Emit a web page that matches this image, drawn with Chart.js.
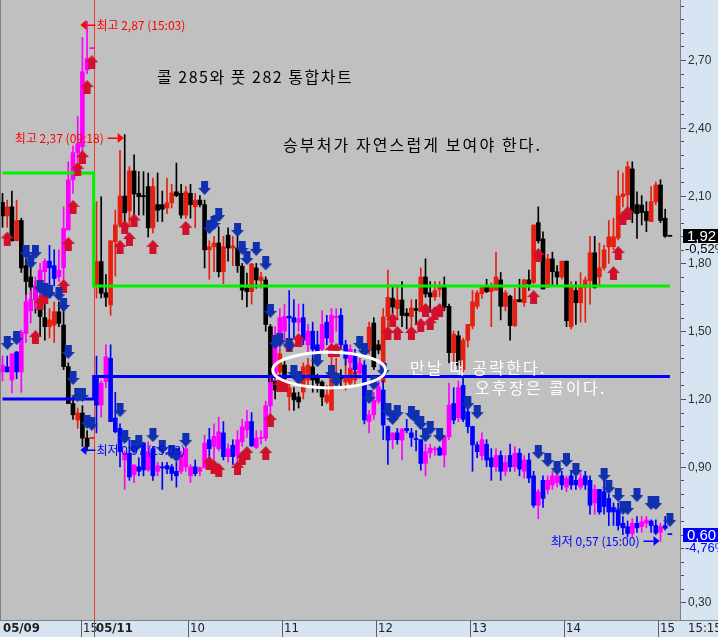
<!DOCTYPE html>
<html><head><meta charset="utf-8">
<script src="https://cdn.jsdelivr.net/npm/chart.js@4/dist/chart.umd.min.js"></script>
<style>html,body{margin:0;padding:0;background:#d6e3f0;}canvas{display:block;}</style>
</head><body>
<canvas id="c" width="718" height="637"></canvas>
<script>
// ---- time slots: 3-minute candles. 0..19 = 05/09 close, 20..142 = 05/11 ----
// Call 285 (red up / black down)
const callOpen  = [2.07,2.01,2.05,1.90,1.99,1.79,1.74,1.70,1.64,1.56,1.52,1.527,1.586,1.527,1.343,1.18,1.107,1.138,1.027,1.025,
1.697,1.808,1.67,1.616,1.896,1.97,2.098,2.032,2.209,2.11,2.10,2.14,1.957,2.06,2.06,2.045,2.068,2.117,2.11,2.014,2.11,2.05,2.08,2.06,1.86,1.874,1.89,1.763,1.925,1.868,1.868,
1.788,1.69,1.675,1.78,1.724,1.727,1.52,1.28,1.32,1.35,1.21,1.227,1.209,1.231,1.284,1.342,1.297,1.275,1.187,1.151,1.284,1.30,1.275,1.27,1.284,1.315,1.24,1.417,1.536,1.44,1.275,
1.565,1.646,1.60,1.638,1.58,1.564,1.60,1.586,1.74,1.67,1.652,1.685,1.697,1.61,1.405,1.48,1.33,1.46,1.523,1.61,1.666,1.697,1.675,1.682,1.727,1.61,1.655,1.525,1.64,1.626,1.727,
1.715,1.98,1.908,1.695,1.82,1.763,1.74,1.81,1.52,1.68,1.626,1.695,1.724,1.847,1.74,1.78,1.873,1.874,1.912,2.095,2.103,2.218,2.06,2.058,2.03,1.985,2.073,2.147,2.0,1.92];
const callHigh  = [2.11,2.08,2.12,2.08,2.00,1.82,1.78,1.72,1.66,1.64,1.60,1.63,1.63,1.60,1.36,1.21,1.16,1.17,1.06,1.03,
2.073,2.095,1.75,1.90,2.036,2.30,2.37,2.228,2.28,2.206,2.206,2.20,2.178,2.20,2.12,2.178,2.15,2.244,2.15,2.14,2.15,2.11,2.10,2.08,1.90,1.92,1.963,1.92,1.957,1.92,1.957,
1.80,1.757,1.80,1.80,1.76,1.74,1.53,1.36,1.42,1.37,1.28,1.25,1.23,1.36,1.38,1.38,1.31,1.28,1.26,1.43,1.38,1.33,1.40,1.40,1.35,1.38,1.30,1.54,1.56,1.46,1.60,
1.77,1.70,1.70,1.72,1.60,1.64,1.64,1.78,1.82,1.72,1.72,1.72,1.74,1.62,1.50,1.50,1.47,1.53,1.68,1.68,1.70,1.73,1.714,1.85,1.76,1.68,1.66,1.69,1.73,1.73,1.77,
1.97,2.05,1.94,1.84,1.85,1.79,1.81,1.81,1.72,1.72,1.76,1.74,1.92,1.92,1.89,1.88,1.99,2.0,2.21,2.20,2.25,2.25,2.117,2.10,2.073,2.14,2.16,2.17,2.04,1.92];
const callLow   = [1.96,1.96,1.90,1.90,1.76,1.58,1.62,1.58,1.48,1.46,1.47,1.45,1.52,1.33,1.18,1.11,1.07,0.99,0.97,1.025,
1.647,1.647,1.61,1.57,1.744,1.965,1.935,1.965,1.985,2.014,2.014,1.917,1.935,1.985,1.985,2.02,2.045,2.095,2.0,2.0,2.0,1.957,2.05,1.78,1.73,1.763,1.74,1.71,1.81,1.79,1.76,
1.64,1.607,1.62,1.69,1.69,1.50,1.26,1.20,1.30,1.26,1.15,1.15,1.16,1.20,1.25,1.23,1.23,1.17,1.18,1.15,1.27,1.25,1.24,1.26,1.26,1.30,1.22,1.40,1.33,1.40,1.26,
1.52,1.58,1.55,1.52,1.51,1.52,1.53,1.586,1.65,1.586,1.636,1.652,1.59,1.36,1.36,1.33,1.32,1.43,1.51,1.60,1.645,1.67,1.52,1.68,1.55,1.59,1.46,1.52,1.63,1.61,1.68,
1.71,1.89,1.687,1.695,1.70,1.70,1.73,1.52,1.51,1.53,1.54,1.54,1.62,1.69,1.70,1.77,1.80,1.86,1.904,2.05,2.02,1.98,1.91,1.97,1.94,1.985,2.06,1.98,1.915,1.92];
const callClose = [2.01,2.05,1.90,1.99,1.78,1.72,1.695,1.64,1.565,1.52,1.55,1.586,1.535,1.343,1.18,1.13,1.138,1.027,0.99,1.03,
1.808,1.668,1.65,1.90,1.97,2.098,2.024,2.209,2.107,2.095,2.095,1.957,2.14,2.035,2.04,2.068,2.112,2.10,2.014,2.117,2.06,2.08,2.06,1.86,1.874,1.89,1.763,1.874,1.868,1.877,1.79,
1.682,1.675,1.797,1.727,1.74,1.53,1.275,1.24,1.40,1.29,1.25,1.196,1.187,1.342,1.35,1.284,1.27,1.209,1.218,1.31,1.297,1.29,1.297,1.337,1.32,1.35,1.27,1.518,1.342,1.417,1.563,
1.65,1.607,1.638,1.57,1.568,1.603,1.592,1.74,1.665,1.652,1.68,1.697,1.606,1.405,1.487,1.35,1.46,1.53,1.63,1.67,1.697,1.675,1.70,1.74,1.61,1.67,1.525,1.64,1.63,1.727,1.71,
1.97,1.90,1.687,1.82,1.763,1.74,1.81,1.546,1.694,1.626,1.70,1.727,1.847,1.694,1.78,1.86,1.917,1.918,2.098,2.107,2.228,2.023,2.02,2.025,1.99,2.073,2.147,1.99,1.92,1.92];

// Put 282 (magenta up / blue down)
const putOpen  = [1.32,1.342,1.284,1.408,1.32,1.49,1.59,1.64,1.68,1.763,1.81,1.79,1.74,1.78,1.948,2.17,2.29,2.316,2.656,2.75,
1.30,1.173,1.277,1.38,1.116,1.07,0.93,0.96,0.864,0.90,1.005,0.886,0.98,0.88,0.90,0.905,0.90,0.88,0.88,0.90,0.86,0.90,0.88,0.895,1.02,0.99,0.98,1.05,0.945,0.995,0.95,
1.011,1.063,1.10,0.985,1.025,1.027,1.17,1.30,1.45,1.50,1.566,1.56,1.54,1.56,1.44,1.50,1.44,1.42,1.54,1.45,1.56,1.57,1.44,1.36,1.40,1.32,1.35,1.10,1.13,1.19,1.24,
1.078,1.02,1.05,1.018,1.07,1.05,1.025,1.02,0.915,0.962,0.975,0.983,0.952,1.033,1.18,1.117,1.26,1.144,1.078,0.997,0.95,1.00,0.94,0.90,0.95,0.88,0.95,0.90,0.96,0.88,0.93,
0.86,0.73,0.84,0.80,0.82,0.83,0.86,0.81,0.86,0.84,0.81,0.86,0.84,0.74,0.80,0.79,0.76,0.72,0.71,0.65,0.635,0.605,0.65,0.635,0.65,0.66,0.64,0.61,0.64,0.60];
const putHigh  = [1.39,1.39,1.40,1.41,1.505,1.66,1.68,1.74,1.80,1.82,1.88,1.86,1.86,2.05,2.25,2.32,2.45,2.80,2.87,2.754,
1.39,1.28,1.44,1.44,1.23,1.09,0.97,1.02,0.91,0.94,1.005,1.01,0.99,0.92,0.92,0.92,0.91,0.92,0.97,1.00,0.91,0.93,0.90,1.04,1.07,1.09,1.12,1.10,1.00,1.02,1.06,
1.11,1.15,1.14,1.06,1.06,1.19,1.30,1.52,1.60,1.62,1.68,1.64,1.62,1.62,1.53,1.54,1.50,1.59,1.57,1.60,1.60,1.60,1.46,1.44,1.42,1.38,1.37,1.15,1.23,1.30,1.28,
1.08,1.05,1.07,1.07,1.11,1.07,1.06,1.02,1.00,1.00,0.99,0.99,1.04,1.27,1.25,1.28,1.30,1.17,1.08,1.01,1.05,1.02,0.98,0.98,0.97,0.95,1.00,0.99,0.98,0.95,0.96,
0.88,0.80,0.86,0.86,0.88,0.87,0.88,0.86,0.88,0.86,0.87,0.88,0.86,0.82,0.80,0.86,0.78,0.74,0.74,0.68,0.66,0.67,0.68,0.68,0.68,0.665,0.665,0.65,0.68,0.60];
const putLow   = [1.28,1.32,1.227,1.29,1.23,1.45,1.536,1.60,1.62,1.66,1.70,1.70,1.72,1.73,1.948,2.11,2.25,2.27,2.64,2.75,
1.05,1.12,1.25,1.10,1.05,0.90,0.80,0.84,0.83,0.86,0.86,0.88,0.84,0.86,0.80,0.87,0.84,0.81,0.87,0.88,0.83,0.86,0.86,0.895,0.93,0.93,0.97,0.93,0.92,0.91,0.92,
0.99,1.03,0.99,0.98,1.00,1.015,1.11,1.28,1.42,1.46,1.45,1.47,1.50,1.44,1.40,1.38,1.38,1.40,1.44,1.43,1.50,1.42,1.35,1.33,1.31,1.29,1.09,1.05,1.11,1.18,1.02,
0.91,0.98,1.00,0.93,1.05,0.99,0.97,0.885,0.86,0.94,0.95,0.95,0.90,1.02,1.09,1.10,1.10,1.05,0.88,0.94,0.93,0.90,0.84,0.88,0.84,0.86,0.88,0.88,0.86,0.85,0.83,
0.72,0.67,0.72,0.78,0.80,0.81,0.80,0.79,0.80,0.80,0.80,0.80,0.69,0.69,0.69,0.69,0.64,0.64,0.62,0.60,0.59,0.59,0.61,0.61,0.63,0.61,0.60,0.57,0.62,0.60];
const putClose = [1.35,1.32,1.40,1.32,1.496,1.63,1.64,1.70,1.77,1.81,1.78,1.733,1.77,1.955,2.17,2.29,2.33,2.648,2.707,2.754,
1.173,1.27,1.387,1.10,1.055,0.967,0.96,0.855,0.908,0.88,0.886,0.967,0.86,0.905,0.895,0.89,0.87,0.86,0.96,0.98,0.90,0.87,0.895,1.005,0.98,1.035,1.055,0.945,0.98,0.945,1.02,
1.077,1.10,0.992,1.027,1.03,1.17,1.27,1.47,1.56,1.566,1.558,1.54,1.555,1.46,1.50,1.42,1.40,1.53,1.47,1.57,1.565,1.44,1.38,1.42,1.33,1.36,1.107,1.13,1.195,1.255,1.085,
1.018,1.05,1.02,1.067,1.06,1.03,1.02,0.915,0.967,0.983,0.98,0.952,1.033,1.173,1.107,1.25,1.11,1.078,0.997,0.967,1.02,0.93,0.90,0.95,0.88,0.92,0.90,0.96,0.89,0.93,0.85,
0.73,0.79,0.76,0.84,0.86,0.86,0.82,0.85,0.82,0.82,0.85,0.82,0.73,0.80,0.70,0.724,0.70,0.70,0.64,0.63,0.605,0.65,0.63,0.657,0.665,0.64,0.607,0.635,0.628,0.60];

// Signal arrows (slot, price level)
const buySlots   = [1,7,8,9,13,14,15,16,17,18,19,25,26,27,28,32,39,44,45,46,50,51,52,56,57,59,60,61,63,70,71,82,83,84,87,89,90,91,92,93,113,114,130,131,132,133];
const buyLevels  = [1.91,1.474,1.625,1.65,1.70,1.886,2.05,2.218,2.27,2.58,2.69,1.873,1.96,1.908,1.99,1.873,1.957,0.917,0.90,0.886,0.895,0.939,0.961,0.961,1.107,1.262,1.262,1.439,1.461,1.417,1.417,1.492,1.55,1.492,1.492,1.527,1.594,1.536,1.58,1.594,1.651,1.837,1.757,1.846,2.0,2.023];
const sellSlots  = [1,3,5,6,7,8,9,10,12,13,14,15,16,17,18,19,25,26,28,29,32,34,36,37,39,43,44,45,46,50,51,52,54,56,57,58,59,61,62,63,67,70,71,76,77,78,79,81,82,83,84,87,88,89,90,91,93,99,101,114,116,118,120,122,128,129,131,132,133,135,138,139,142];
const sellLevels = [1.448,1.47,1.85,1.806,1.85,1.696,1.682,1.673,1.664,1.616,1.408,1.293,1.218,1.218,1.098,1.09,1.151,1.032,0.988,1.01,1.04,0.988,0.965,0.952,1.019,2.134,1.96,1.979,2.014,1.948,1.868,1.824,1.864,1.80,1.59,1.452,1.46,1.439,1.319,1.293,1.372,1.319,1.284,1.448,1.417,1.209,1.27,1.328,1.151,1.116,1.142,1.138,1.12,1.094,1.04,1.072,1.04,1.182,1.142,0.965,0.93,0.894,0.93,0.886,0.864,0.81,0.775,0.718,0.718,0.775,0.74,0.74,0.665];

// Reference levels per day [05/09, 05/11]
const greenLevels = [2.20, 1.70];
const blueLevels  = [1.20, 1.30];
const dayBreakSlot = 19.4;
const lastSlot = 142;

// Axis
const priceTicks = [0.30,0.60,0.90,1.20,1.50,1.80,2.10,2.40,2.70];
const timeLabelSlots = [-0.3,16.65,19.5,39.5,59.5,79.5,99.5,119.5,139.5];
const timeLabelTexts = ['05/09','15','05/11','10','11','12','13','14','15'];
const timeLabelBold  = [true,false,true,false,false,false,false,false,false];

// High / low notes
const noteSlots  = [17,26,17,140];
const noteLevels = [2.855,2.355,0.975,0.572];
const noteTexts  = ['최고 2,87 (15:03)','최고 2,37 (09:18)','최저 0,97 (15:03)','최저 0,57 (15:00)'];
const noteSides  = ['right','left','right','left'];
const noteColors = ['#ff0000','#ff0000','#0000ff','#0000ff'];

// Meeting zone ellipse
const zoneSlot = 69.5, zoneLevel = 1.328, zoneHalfSlots = 12, zoneHalfLevel = 0.079;

function candle(o,h,l,c,up,dn,ord){
  const wick=[],body=[],col=[];
  for(let i=0;i<o.length;i++){
    wick.push({x:i,y:[l[i],h[i]]});
    body.push({x:i,y:[o[i],c[i]]});
    col.push(c[i]>o[i]?up:dn);
  }
  return [
    {type:'bar',data:wick,backgroundColor:col,borderWidth:0,barThickness:1,grouped:false,order:ord+1},
    {type:'bar',data:body,backgroundColor:col,borderWidth:0,barThickness:4,grouped:false,minBarLength:1,order:ord}
  ];
}
function arrowImg(color,up){
  const c=document.createElement('canvas');c.width=13;c.height=14;
  const g=c.getContext('2d');g.fillStyle=color;
  if(up){g.beginPath();g.moveTo(6.5,0);g.lineTo(13,7);g.lineTo(0,7);g.closePath();g.fill();g.fillRect(3,7,7,7);}
  else{g.fillRect(3,0,7,7);g.beginPath();g.moveTo(0,7);g.lineTo(13,7);g.lineTo(6.5,14);g.closePath();g.fill();}
  return c;
}
function levelLine(levels){
  return [{x:0,y:levels[0]},{x:dayBreakSlot,y:levels[0]},{x:dayBreakSlot,y:levels[1]},{x:lastSlot,y:levels[1]}];
}

const ds = [].concat(
  candle(callOpen,callHigh,callLow,callClose,'#e81e0e','#000000',20),
  candle(putOpen,putHigh,putLow,putClose,'#ff00ff','#0000ff',16),
  [
   {type:'line',data:levelLine(greenLevels),borderColor:'#00f000',borderWidth:3,pointRadius:0,tension:0,order:8},
   {type:'line',data:levelLine(blueLevels),borderColor:'#0000ff',borderWidth:3,pointRadius:0,tension:0,order:8},
   {type:'line',showLine:false,data:buySlots.map((s,i)=>({x:s,y:buyLevels[i]})),pointStyle:arrowImg('#d0102c',true),order:2},
   {type:'line',showLine:false,data:sellSlots.map((s,i)=>({x:s,y:sellLevels[i]})),pointStyle:arrowImg('#1030b0',false),order:1}
  ]);

function spaced(g,text,x,y,sp){
  if('letterSpacing' in g){g.letterSpacing=sp+'px';g.fillText(text,x,y);g.letterSpacing='0px';return;}
  let cx=x;for(const ch of text){g.fillText(ch,cx,y);cx+=g.measureText(ch).width+sp;}
}

const decor = {
  id:'decor',
  beforeDraw(ch){
    const g=ch.ctx,a=ch.chartArea;
    g.save();
    g.fillStyle='#d6e3f0';g.fillRect(0,0,ch.width,ch.height);
    g.fillStyle='#c0c0c0';g.fillRect(a.left,a.top,a.right-a.left,a.bottom-a.top);
    g.fillStyle='#808080';g.fillRect(0,0,1,a.bottom);
    g.restore();
  },
  beforeDatasetsDraw(ch){
    const g=ch.ctx,a=ch.chartArea,x=ch.scales.x;
    const px=Math.round(x.getPixelForValue(19.5))+0.5;
    g.save();g.strokeStyle='#f03c3c';g.lineWidth=1;
    g.beginPath();g.moveTo(px,a.top);g.lineTo(px,a.bottom);g.stroke();g.restore();
  },
  afterDatasetsDraw(ch){
    const g=ch.ctx,a=ch.chartArea,x=ch.scales.x,y=ch.scales.y;
    g.save();
    // ellipse
    const cx=x.getPixelForValue(zoneSlot),cy=y.getPixelForValue(zoneLevel);
    const rx=x.getPixelForValue(zoneSlot+zoneHalfSlots)-cx, ry=cy-y.getPixelForValue(zoneLevel+zoneHalfLevel);
    g.strokeStyle='#ffffff';g.lineWidth=3;g.beginPath();g.ellipse(cx,cy,rx,ry,0,0,Math.PI*2);g.stroke();
    // titles
    g.textBaseline='middle';g.textAlign='left';
    g.font='16px "Noto Sans CJK KR"';
    g.fillStyle='#000';
    spaced(g,'콜 285와 풋 282 통합차트',157,77,1.5);
    spaced(g,'승부처가 자연스럽게 보여야 한다.',283,145,2.1);
    g.fillStyle='#fff';
    spaced(g,'만날 때 공략한다.',410,368,2.2);
    spaced(g,'오후장은 콜이다.',475,388,2.3);
    // hi/lo notes
    g.font='12px "Noto Sans CJK KR"';
    for(let i=0;i<noteTexts.length;i++){
      const tx=x.getPixelForValue(noteSlots[i]), ty=Math.round(y.getPixelForValue(noteLevels[i]));
      g.fillStyle=noteColors[i];g.strokeStyle=noteColors[i];g.lineWidth=1;
      if(noteSides[i]==='right'){
        const tip=tx-2;
        g.beginPath();g.moveTo(tip,ty);g.lineTo(tip+6,ty-5);g.lineTo(tip+6,ty+5);g.closePath();g.fill();
        g.fillRect(tip+6,ty-0.5,9,1.5);
        g.textAlign='left';g.fillText(noteTexts[i],tip+16,ty);
      }else{
        const tip=tx-1;
        g.beginPath();g.moveTo(tip,ty);g.lineTo(tip-6,ty-5);g.lineTo(tip-6,ty+5);g.closePath();g.fill();
        g.fillRect(tip-16,ty-0.5,10,1.5);
        g.textAlign='right';g.fillText(noteTexts[i],tip-20,ty);
      }
    }
    g.restore();
    // right axis
    g.save();
    g.fillStyle='#808080';g.fillRect(a.right,0,1,a.bottom);g.fillRect(0,a.bottom,ch.width,1);
    g.strokeStyle='#505050';g.lineWidth=1;
    for(let k=0;k<=45;k++){
      const v=0.30+0.06*k; if(v>y.max) break;
      const py=Math.round(y.getPixelForValue(v))+0.5;
      g.beginPath();g.moveTo(a.right+1,py);g.lineTo(a.right+(k%5===0?6:4),py);g.stroke();
    }
    g.fillStyle='#303030';g.font='12px "Liberation Sans"';g.textBaseline='middle';g.textAlign='left';
    priceTicks.forEach(v=>{g.fillText(v.toFixed(2).replace('.',','),a.right+8,Math.round(y.getPixelForValue(v))+1);});
    // last value boxes
    const lastC=callClose[callClose.length-1], lastP=putClose[putClose.length-1];
    const bc=Math.round(y.getPixelForValue(lastC)), bp=Math.round(y.getPixelForValue(lastP));
    g.font='15px "Liberation Sans"';
    g.fillStyle='#000';g.fillRect(a.right+3,bc-7,40,14);
    g.fillStyle='#fff';g.fillText(lastC.toFixed(2).replace('.',','),a.right+7,bc+1);
    g.fillStyle='#0000ff';g.fillRect(a.right+3,bp-7,40,14);
    g.fillStyle='#fff';g.fillText(lastP.toFixed(2).replace('.',','),a.right+7,bp+1);
    g.font='13px "Liberation Sans"';
    g.fillStyle='#000';g.fillText('-0,52%',a.right+5,bc+13);
    g.fillStyle='#0000ff';g.fillText('-4,76%',a.right+5,bp+13);
    // bottom time axis
    g.textBaseline='middle';
    for(let i=0;i<timeLabelSlots.length;i++){
      const sx=Math.round(x.getPixelForValue(timeLabelSlots[i]));
      if(i>0){g.fillStyle='#606060';g.fillRect(sx,a.bottom,1,ch.height-a.bottom);}
      g.fillStyle='#202020';
      g.font=(timeLabelBold[i]?'bold ':'')+'13px "Liberation Sans Narrow","DejaVu Sans Condensed","Liberation Sans"';
      g.fillText(timeLabelTexts[i],sx+2,a.bottom+9);
    }
    g.font='13px "Liberation Sans Narrow","DejaVu Sans Condensed","Liberation Sans"';
    g.fillStyle='#202020';g.fillText('15:15:51',a.right+8,a.bottom+9);
    g.restore();
  }
};

new Chart(document.getElementById('c'),{
  type:'bar',
  data:{datasets:ds},
  options:{
    responsive:false,animation:false,devicePixelRatio:1,events:[],
    layout:{autoPadding:false,padding:{left:1,right:38,top:0,bottom:17}},
    plugins:{legend:{display:false},tooltip:{enabled:false}},
    scales:{
      x:{type:'linear',min:-0.32,max:144.15,display:false,offset:false},
      y:{type:'linear',min:0.2221,max:2.9655,display:false}
    }
  },
  plugins:[decor]
});
</script>
</body></html>
